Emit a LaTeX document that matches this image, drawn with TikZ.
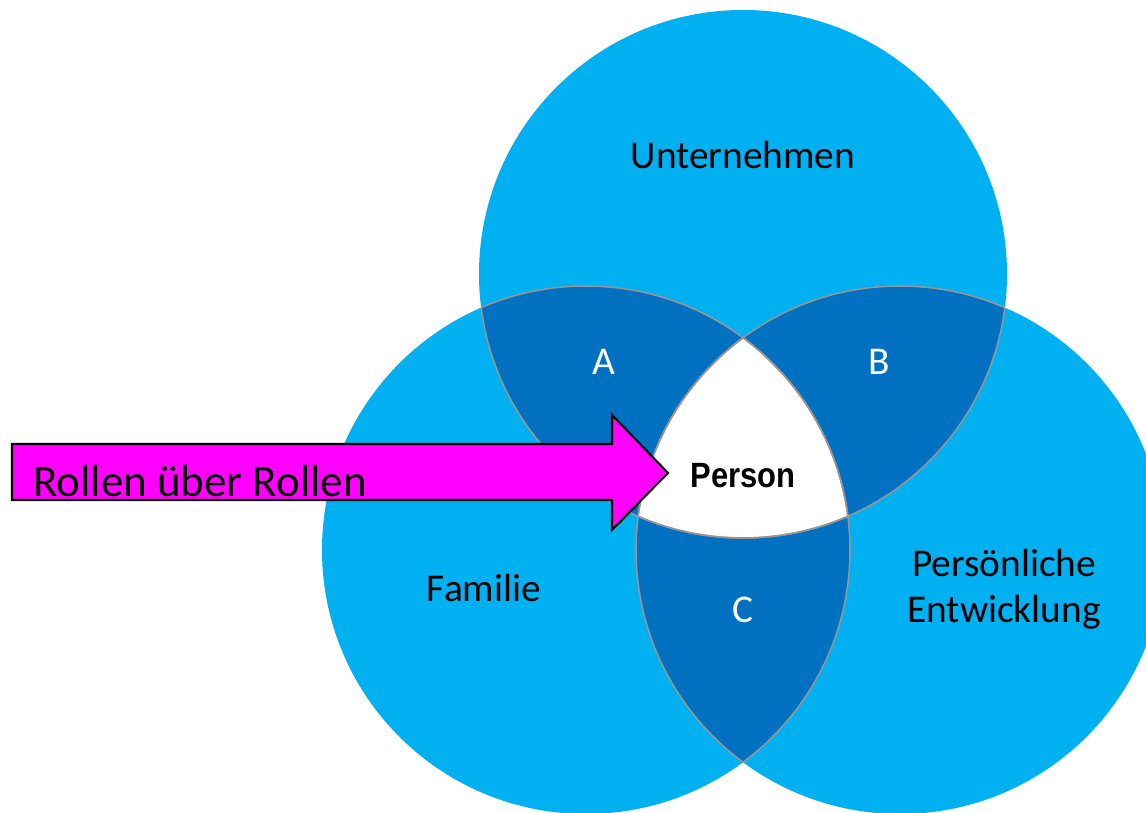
\documentclass[tikz,border=0pt]{standalone}
\usepackage{fontspec}
\setmainfont{Carlito}
\newfontfamily\personfont{Liberation Sans}
\usetikzlibrary{positioning}
\definecolor{Venn_Light}{HTML}{00B0F0}
\definecolor{Venn_Dark}{HTML}{0070C0}
\definecolor{Venn_Edge}{HTML}{969696}
\definecolor{Role_Pink}{HTML}{FF00FF}
\newcommand{\vennr}{5.28}

\begin{document}
\begin{tikzpicture}[
    venntext/.style={font=\fontsize{22.4}{26.4}\selectfont, align=center},
    lensline/.style={draw=Venn_Edge, line width=0.9pt}]
    \useasboundingbox (0,0) rectangle (22.92,16.26);

    % Circle centres
    \coordinate (cTop) at (14.86,10.78);
    \coordinate (cLeft) at (11.72,5.26);
    \coordinate (cRight) at (18.0,5.26);

    % Circles
    \fill[Venn_Light] (cTop) circle (\vennr) (cLeft) circle (\vennr) (cRight) circle (\vennr);

    % Overlaps
    \begin{scope}
        \clip (cTop) circle (\vennr);
        \fill[Venn_Dark] (cLeft) circle (\vennr) (cRight) circle (\vennr);
    \end{scope}
    \begin{scope}
        \clip (cLeft) circle (\vennr);
        \fill[Venn_Dark] (cRight) circle (\vennr);
    \end{scope}
    \begin{scope}
        \clip (cTop) circle (\vennr);
        \clip (cLeft) circle (\vennr);
        \fill[white] (cRight) circle (\vennr);
    \end{scope}

    % Edges of the overlaps
    \foreach \a/\b in {cTop/cLeft, cTop/cRight, cLeft/cTop, cLeft/cRight, cRight/cTop, cRight/cLeft} {
        \begin{scope}
            \clip (\b) circle (\vennr);
            \draw[lensline] (\a) circle (\vennr);
        \end{scope}
    }

    % Labels
    \node[venntext] (unternehmen) at (14.86,13.16) {Unternehmen};
    \node[venntext] (familie) at (9.68,4.50) {Familie};
    \node[venntext] (entwicklung) at (20.08,4.48) {Persönliche\\Entwicklung};
    \node[venntext, text=white] (a) at (12.08,9.02) {A};
    \node[venntext, text=white] (b) at (17.58,9.02) {B};
    \node[venntext, text=white] (c) at (14.86,4.06) {C};

    % Arrow
    \coordinate (tip) at (13.36,6.80);
    \draw[fill=Role_Pink, line width=1.2pt] (0.24,7.38) -- (12.24,7.38) -- (12.24,7.96) -- (tip)
        -- (12.24,5.66) -- (12.24,6.26) -- (0.24,6.26) -- cycle;
    \node[anchor=base west, inner sep=0pt, font=\fontsize{25.6}{30}\selectfont] (rollen) at (0.66,6.32) {Rollen über Rollen};

    \node[xscale=0.88, transform shape, font=\personfont\bfseries\fontsize{20}{24}\selectfont] (person) at (14.86,6.74) {Person};
\end{tikzpicture}
\end{document}
